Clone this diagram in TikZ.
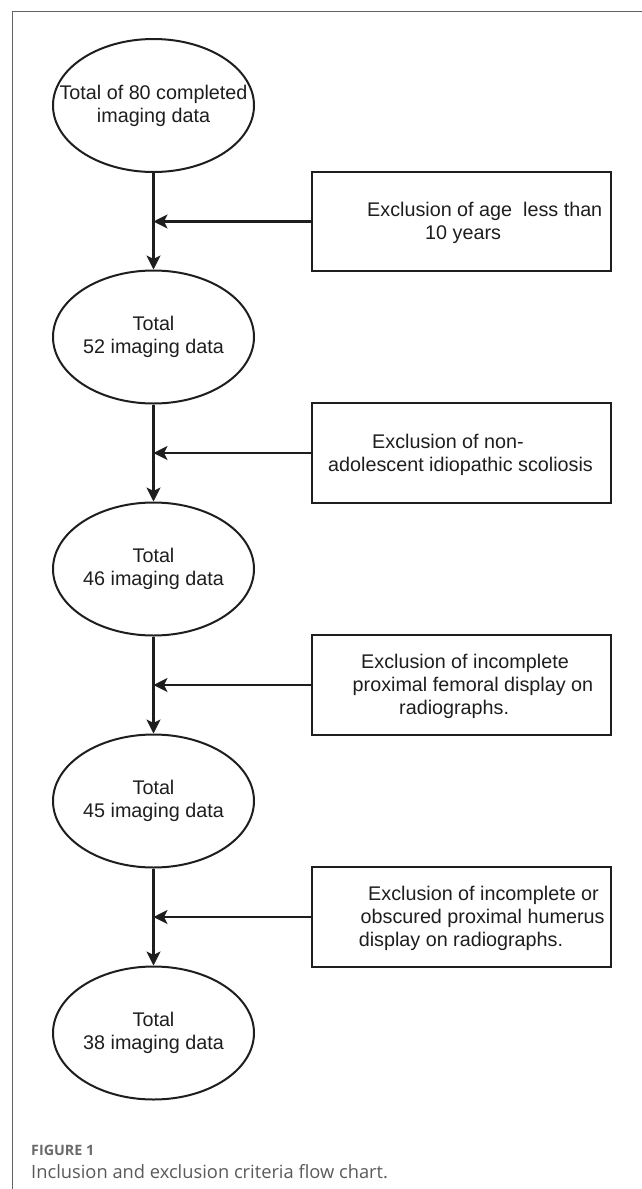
\documentclass[tikz,border=0pt]{standalone}
\usepackage{fontspec}
\setmainfont{Liberation Sans}
\newfontfamily\capfont{Open Sans}
\usetikzlibrary{arrows.meta,shapes.geometric}
\definecolor{ink}{HTML}{1E1E1E}
\definecolor{framecol}{HTML}{626262}
\definecolor{capgray}{HTML}{5A5A5A}
\definecolor{figgray}{HTML}{6A6A6A}
\begin{document}
\begin{tikzpicture}[x=1pt,y=-1pt,
  oval/.style={draw=ink, line width=2pt, ellipse, minimum width=201pt, minimum height=133pt, inner sep=0pt},
  exbox/.style={draw=ink, line width=2.2pt, rectangle, minimum width=299pt, minimum height=99.5pt, inner sep=0pt},
  etext/.style={text=ink, align=center, inner sep=0pt, font=\fontsize{19.76}{23}\selectfont},
  ltext/.style={text=ink, inner sep=0pt, anchor=base west, font=\fontsize{19.76}{23}\selectfont},
  flow/.style={draw=ink, line width=2.2pt, -{Stealth[length=14pt,width=14pt,inset=3.5pt]}},
  captext/.style={inner sep=0pt, anchor=base west}
]
\useasboundingbox (0,0) rectangle (642,1189);
\fill[white] (0,0) rectangle (642,1189);
% frame
\draw[framecol, line width=1.5pt] (12.5,1189) -- (12.5,11.5) -- (642,11.5);

% ellipses
\node[oval] (e1) at (153.5,105.5) {};
\node[etext] (t1) at (e1) {Total of 80 completed\\imaging data};
\node[oval] (e2) at (153.5,337) {};
\node[etext] (t2) at (e2) {Total\\52 imaging data};
\node[oval] (e3) at (153.5,569) {};
\node[etext] (t3) at (e3) {Total\\46 imaging data};
\node[oval] (e4) at (153.5,801) {};
\node[etext] (t4) at (e4) {Total\\45 imaging data};
\node[oval] (e5) at (153.5,1033) {};
\node[etext] (t5) at (e5) {Total\\38 imaging data};

% exclusion boxes
\node[exbox] (b1) at (461.5,221.5) {};
\node[exbox] (b2) at (461.5,453) {};
\node[exbox] (b3) at (461.5,685) {};
\node[exbox] (b4) at (461.5,917) {};

\node[ltext] (b1l1) at (367,216) {Exclusion of age\ \ less than};
\node[ltext] (b1l2) at (425,239) {10 years};
\node[ltext] (b2l1) at (372,448) {Exclusion of non-};
\node[ltext] (b2l2) at (328,471) {adolescent idiopathic scoliosis};
\node[ltext] (b3l1) at (361,668) {Exclusion of incomplete};
\node[ltext] (b3l2) at (352.5,691.5) {proximal femoral display on};
\node[ltext] (b3l3) at (399,714) {radiographs.};
\node[ltext] (b4l1) at (368,900) {Exclusion of incomplete or};
\node[ltext] (b4l2) at (360.5,923) {obscured proximal humerus};
\node[ltext] (b4l3) at (358.6,946) {display on radiographs.};

% connectors
\draw[flow] (e1.south) -- (e2.north);
\draw[flow] (e2.south) -- (e3.north);
\draw[flow] (e3.south) -- (e4.north);
\draw[flow] (e4.south) -- (e5.north);
\draw[flow] (b1.west) -- (b1.west -| e1.south);
\draw[flow] (b2.west) -- (b2.west -| e2.south);
\draw[flow] (b3.west) -- (b3.west -| e3.south);
\draw[flow] (b4.west) -- (b4.west -| e4.south);

% caption
\node[captext, text=figgray, font=\capfont\bfseries\fontsize{14.3}{17}\selectfont] (figlabel) at (31,1155) {FIGURE 1};
\node[captext, text=capgray, font=\capfont\fontsize{18.3}{22}\selectfont] (caption) at (31,1178) {Inclusion and exclusion criteria flow chart.};
\end{tikzpicture}
\end{document}
